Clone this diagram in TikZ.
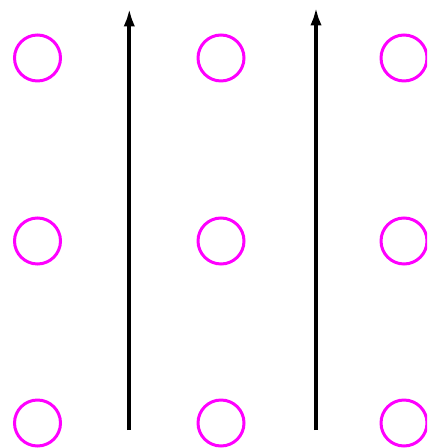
\documentclass[tikz,border=0pt]{standalone}
\usepackage{xcolor}
\usepackage{tikz}
\usetikzlibrary{
  arrows.meta,
  positioning
}
\definecolor{gdRing}{HTML}{FF00FF}
\tikzset{
  ring/.style={
    draw=gdRing, circle, line width=0.06cm, minimum size=0.92cm, inner sep=0pt
  },
  flowline/.style={-{Latex[length=0.36cm, width=0.23cm]}, line width=0.08cm, black}
}

\begin{document}
\begin{tikzpicture}[x=0.02cm, y=-0.02cm]
  \useasboundingbox (0,0) rectangle (427,448);
  \clip (0,0) rectangle (427,448);
  % rings, three by three
  \node[ring] (r11) at (37.5,58) {};
  \node[ring] (r12) at (221,58) {};
  \node[ring] (r13) at (404,58) {};
  \node[ring] (r21) at (37.5,241) {};
  \node[ring] (r22) at (221,241) {};
  \node[ring] (r23) at (404,241) {};
  \node[ring] (r31) at (37.5,423) {};
  \node[ring] (r32) at (221,423) {};
  \node[ring] (r33) at (404,423) {};
  % upward arrows between columns
  \coordinate (aFoot) at (129.3,430);
  \coordinate (aTip) at (129.3,8.5);
  \coordinate (bFoot) at (316,430);
  \coordinate (bTip) at (316,7.5);
  \draw[flowline] (aFoot) -- (aTip);
  \draw[flowline] (bFoot) -- (bTip);
\end{tikzpicture}
\end{document}
